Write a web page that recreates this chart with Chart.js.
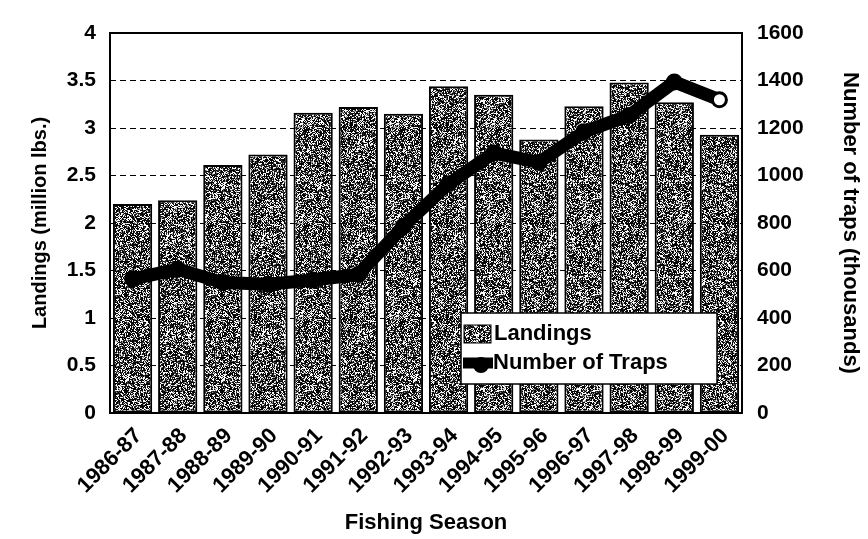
<!DOCTYPE html>
<html>
<head>
<meta charset="utf-8">
<script src="https://cdn.jsdelivr.net/npm/chart.js@4.4.1/dist/chart.umd.min.js"></script>
<style>
  html, body { margin: 0; padding: 0; background: #fff; }
  #wrap { width: 868px; height: 539px; position: relative; }
</style>
</head>
<body>
<div id="wrap"><canvas id="c" width="868" height="539"></canvas></div>
<script>
const categories = ['1986-87','1987-88','1988-89','1989-90','1990-91','1991-92','1992-93','1993-94','1994-95','1995-96','1996-97','1997-98','1998-99','1999-00'];
const landings = [2.20, 2.24, 2.61, 2.72, 3.16, 3.22, 3.15, 3.44, 3.35, 2.88, 3.23, 3.48, 3.27, 2.93];
const traps = [565, 605, 549, 542, 560, 583, 786, 965, 1095, 1055, 1184, 1253, 1394, 1319];
const leftTicks = { min: 0, max: 4, step: 0.5 };
const rightTicks = { min: 0, max: 1600, step: 200 };
const seriesNames = ['Landings', 'Number of Traps'];
const axisTitles = { left: 'Landings (million lbs.)', right: 'Number of traps (thousands)', bottom: 'Fishing Season' };

const FONT = "'Liberation Sans', Arial, sans-serif";

// speckled texture (deterministic hash, styling only)
function hash(x, y) {
  let n = Math.imul(x, 374761393) + Math.imul(y, 668265263);
  n = Math.imul(n ^ (n >>> 13), 1274126177);
  n = n ^ (n >>> 16);
  return (n >>> 0) / 4294967296;
}
function makePattern() {
  const s = 96;
  const cv = document.createElement('canvas');
  cv.width = s; cv.height = s;
  const cx = cv.getContext('2d');
  const img = cx.createImageData(s, s);
  for (let y = 0; y < s; y++) {
    for (let x = 0; x < s; x++) {
      const h = hash(x, y);
      let v;
      if (h < 0.30) v = 250; else if (h < 0.40) v = 150; else if (h < 0.52) v = 60; else v = 5;
      const i = (y * s + x) * 4;
      img.data[i] = v; img.data[i + 1] = v; img.data[i + 2] = v; img.data[i + 3] = 255;
    }
  }
  cx.putImageData(img, 0, 0);
  return cx.createPattern(cv, 'repeat');
}
const pattern = makePattern();

const trapPointBg = traps.map((_, i) => i === traps.length - 1 ? '#ffffff' : '#000000');

const framePlugin = {
  id: 'frame',
  afterDatasetsDraw(chart) {
    const { ctx, chartArea: a } = chart;
    ctx.save();
    ctx.strokeStyle = '#000';
    ctx.lineWidth = 2;
    ctx.strokeRect(a.left, a.top, a.right - a.left, a.bottom - a.top);
    ctx.restore();
  }
};

const legendPlugin = {
  id: 'boxLegend',
  afterDraw(chart) {
    const { ctx, chartArea: a } = chart;
    const x0 = a.left + 351, y0 = a.top + 280, w = 256, h = 71;
    ctx.save();
    ctx.fillStyle = '#fff';
    ctx.fillRect(x0, y0, w, h);
    ctx.strokeStyle = '#000';
    ctx.lineWidth = 1.5;
    ctx.strokeRect(x0, y0, w, h);
    // Landings swatch
    ctx.fillStyle = pattern;
    ctx.fillRect(x0 + 3, y0 + 12, 27, 18);
    ctx.lineWidth = 1;
    ctx.strokeRect(x0 + 3, y0 + 12, 27, 18);
    // line swatch
    const ly = y0 + 50;
    ctx.strokeStyle = '#000';
    ctx.lineWidth = 11;
    ctx.beginPath();
    ctx.moveTo(x0 + 2, ly);
    ctx.lineTo(x0 + 32, ly);
    ctx.stroke();
    ctx.fillStyle = '#000';
    ctx.beginPath();
    ctx.arc(x0 + 20, ly + 2, 8, 0, Math.PI * 2);
    ctx.fill();
    ctx.fillStyle = '#000';
    ctx.font = 'bold 22px ' + FONT;
    ctx.textBaseline = 'middle';
    ctx.textAlign = 'left';
    ctx.fillText(seriesNames[0], x0 + 33, y0 + 21);
    ctx.fillText(seriesNames[1], x0 + 32, ly);
    ctx.restore();
  }
};

const plainTick = (v) => String(v);

new Chart(document.getElementById('c'), {
  data: {
    labels: categories,
    datasets: [
      {
        type: 'line',
        label: seriesNames[1],
        data: traps,
        yAxisID: 'y2',
        borderColor: '#000',
        borderWidth: 13,
        tension: 0,
        pointRadius: 7,
        pointBackgroundColor: trapPointBg,
        pointBorderColor: '#000',
        pointBorderWidth: 3,
        order: 0
      },
      {
        type: 'bar',
        label: seriesNames[0],
        data: landings,
        yAxisID: 'y',
        backgroundColor: pattern,
        borderColor: '#000',
        borderWidth: 2,
        borderSkipped: false,
        categoryPercentage: 1.0,
        barPercentage: 0.87,
        order: 1
      }
    ]
  },
  options: {
    responsive: false,
    animation: false,
    devicePixelRatio: 1,
    layout: { padding: { top: 33, left: 0, right: 0, bottom: 0 } },
    plugins: { legend: { display: false }, tooltip: { enabled: false } },
    scales: {
      x: {
        grid: { display: false, drawTicks: false },
        border: { display: false },
        ticks: {
          autoSkip: false, minRotation: 45, maxRotation: 45, padding: 10, labelOffset: 6,
          color: '#000', font: { family: FONT, size: 22, weight: 'bold' }
        },
        title: {
          display: true, text: axisTitles.bottom, color: '#000',
          font: { family: FONT, size: 22, weight: 'bold' }, padding: { top: 0, bottom: 3 }
        },
        afterFit(s) { s.height = 126; }
      },
      y: {
        position: 'left',
        min: leftTicks.min, max: leftTicks.max,
        ticks: {
          stepSize: leftTicks.step, padding: 14, color: '#000',
          font: { family: FONT, size: 21, weight: 'bold' },
          callback: plainTick
        },
        grid: { color: '#000', lineWidth: 1, drawTicks: false },
        border: { display: false, dash: [6, 4] },
        title: {
          display: true, text: axisTitles.left, color: '#000',
          font: { family: FONT, size: 20, weight: 'bold' }, padding: { top: 28, bottom: 0 }
        },
        afterFit(s) { s.width = 110; }
      },
      y2: {
        position: 'right',
        min: rightTicks.min, max: rightTicks.max,
        ticks: {
          stepSize: rightTicks.step, padding: 15, color: '#000',
          font: { family: FONT, size: 21, weight: 'bold' },
          callback: plainTick
        },
        grid: { display: false, drawTicks: false },
        border: { display: false },
        title: {
          display: true, text: axisTitles.right, color: '#000',
          font: { family: FONT, size: 22, weight: 'bold' }, padding: { top: 5, bottom: 0 }
        },
        afterFit(s) { s.width = 126; }
      }
    }
  },
  plugins: [framePlugin, legendPlugin]
});
</script>
</body>
</html>
